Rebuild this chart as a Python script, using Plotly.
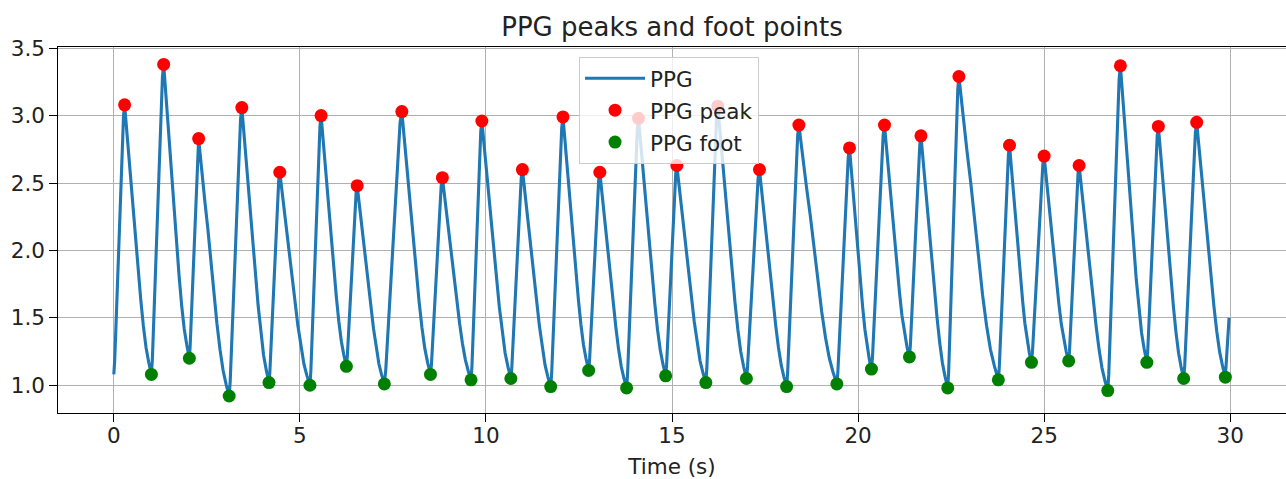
import plotly.graph_objects as go

# ---- data ----
PEAK_TIMES = [0.29, 1.34, 2.28, 3.44, 4.46, 5.57, 6.54, 7.74, 8.83, 9.89,
              10.98, 12.07, 13.06, 14.10, 15.13, 16.23, 17.35, 18.41, 19.77, 20.71,
              21.69, 22.71, 24.07, 25.00, 25.94, 27.05, 28.07, 29.10]
PEAK_VALUES = [3.08, 3.38, 2.83, 3.06, 2.58, 3.00, 2.48, 3.03, 2.54, 2.96,
               2.60, 2.99, 2.58, 2.98, 2.63, 3.07, 2.60, 2.93, 2.76, 2.93,
               2.85, 3.29, 2.78, 2.70, 2.63, 3.37, 2.92, 2.95]
FOOT_TIMES = [1.01, 2.03, 3.10, 4.17, 5.27, 6.25, 7.27, 8.51, 9.60, 10.67,
              11.74, 12.76, 13.78, 14.83, 15.91, 17.00, 18.08, 19.43, 20.36, 21.38,
              22.41, 23.77, 24.66, 25.66, 26.71, 27.76, 28.75, 29.87]
FOOT_VALUES = [1.08, 1.20, 0.92, 1.02, 1.00, 1.14, 1.01, 1.08, 1.04, 1.05,
               0.99, 1.11, 0.98, 1.07, 1.02, 1.05, 0.99, 1.01, 1.12, 1.21,
               0.98, 1.04, 1.17, 1.18, 0.96, 1.17, 1.05, 1.06]
SIGNAL_START = (0.0, 1.08)
SIGNAL_END = (29.97, 1.50)

# pulse shape read from single beats (fraction of the interval -> fraction of amplitude)
RISE_FRAC = [0.0, 0.08, 0.20, 0.43, 0.66, 0.90, 1.0]
RISE_LEVEL = [0.0, 0.05, 0.18, 0.46, 0.72, 0.96, 1.0]
DECAY_FRAC = [0.0, 0.04, 0.10, 0.20, 0.30, 0.40, 0.50, 0.60, 0.70, 0.80, 0.90, 0.96, 1.0]
DECAY_LEVEL = [1.0, 0.95, 0.87, 0.76, 0.65, 0.52, 0.40, 0.28, 0.18, 0.10, 0.045, 0.015, 0.0]

X_TICKS = [0, 5, 10, 15, 20, 25, 30]
Y_TICKS = [1.0, 1.5, 2.0, 2.5, 3.0, 3.5]


def segment(t0, v0, t1, v1, fracs, levels, rising):
    ts, vs = [], []
    for f, lv in zip(fracs, levels):
        ts.append(t0 + f * (t1 - t0))
        if rising:
            vs.append(v0 + lv * (v1 - v0))
        else:
            vs.append(v1 + lv * (v0 - v1))
    return ts, vs


line_t, line_v = [], []
prev_t, prev_v = SIGNAL_START
for pt, pv, ft, fv in zip(PEAK_TIMES, PEAK_VALUES, FOOT_TIMES, FOOT_VALUES):
    ts, vs = segment(prev_t, prev_v, pt, pv, RISE_FRAC, RISE_LEVEL, True)
    line_t += ts[:-1]; line_v += vs[:-1]
    ts, vs = segment(pt, pv, ft, fv, DECAY_FRAC, DECAY_LEVEL, False)
    line_t += ts[:-1]; line_v += vs[:-1]
    prev_t, prev_v = ft, fv
line_t += [prev_t, SIGNAL_END[0]]
line_v += [prev_v, SIGNAL_END[1]]

FONT = "DejaVu Sans"
TXT = "#222222"

fig = go.Figure()
fig.add_trace(go.Scatter(x=line_t, y=line_v, mode="lines", name="PPG",
                         line=dict(color="#1f77b4", width=3.1),
                         legendgroup="a"))
fig.add_trace(go.Scatter(x=PEAK_TIMES, y=PEAK_VALUES, mode="markers", name="PPG peak",
                         marker=dict(color="#ff0000", size=13),
                         legendgroup="b"))
fig.add_trace(go.Scatter(x=FOOT_TIMES, y=FOOT_VALUES, mode="markers", name="PPG foot",
                         marker=dict(color="#008000", size=13),
                         legendgroup="c"))

axis_common = dict(showline=True, linecolor="black", linewidth=1.3,
                   ticks="outside", ticklen=7.6, tickwidth=1.3, tickcolor="black",
                   showgrid=True, gridcolor="#b0b0b0", gridwidth=1.2,
                   zeroline=False, automargin=False,
                   tickfont=dict(family=FONT, size=21.5, color=TXT))

fig.update_xaxes(range=[-1.5, 31.5], tickvals=X_TICKS, mirror=True,
                 title=dict(text="Time (s)", font=dict(family=FONT, size=21.5, color=TXT),
                            standoff=12),
                 ticklabelstandoff=-5, **axis_common)
fig.update_yaxes(range=[0.794, 3.509], tickvals=Y_TICKS, tickformat=".1f", mirror=False,
                 ticklabelstandoff=0, **axis_common)

fig.update_layout(
    width=1286, height=479,
    margin=dict(l=58, r=0, t=47, b=66, autoexpand=False),
    paper_bgcolor="white", plot_bgcolor="white",
    font=dict(family=FONT, size=21.5, color=TXT),
    title=dict(text="PPG peaks and foot points", xref="paper", x=0.5, xanchor="center",
               y=1 - 27 / 479, yanchor="middle", automargin=False,
               font=dict(family=FONT, size=26, color=TXT)),
    showlegend=True,
    legend=dict(x=0.4243, y=0.9734, xanchor="left", yanchor="top",
                bgcolor="rgba(255,255,255,0.8)", bordercolor="#cccccc", borderwidth=1,
                font=dict(family=FONT, size=21.5, color=TXT),
                traceorder="grouped", tracegroupgap=1, itemwidth=60),
)

fig.write_html("out.html", config={"displayModeBar": False},
               post_script="document.body.style.margin='0';document.body.style.padding='0';")
